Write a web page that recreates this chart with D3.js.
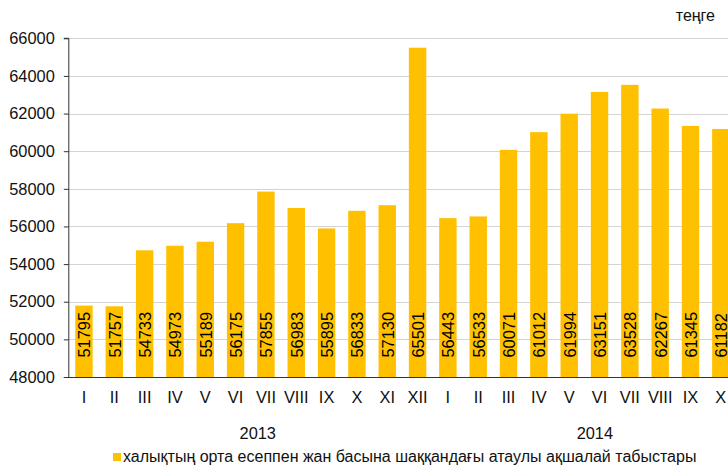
<!DOCTYPE html>
<html>
<head>
<meta charset="utf-8">
<script src="https://cdn.jsdelivr.net/npm/d3@7/dist/d3.min.js"></script>
<style>
  html, body { margin: 0; padding: 0; background: #fff; }
  svg { display: block; font-family: "Liberation Sans", Arial, sans-serif; }
</style>
</head>
<body>
<svg id="chart" width="728" height="465"></svg>
<script>
// ---- data ----
const months = ["I","II","III","IV","V","VI","VII","VIII","IX","X","XI","XII",
                "I","II","III","IV","V","VI","VII","VIII","IX","X"];
const years = ["2013","2014"];
const yearOfCategory = [0,0,0,0,0,0,0,0,0,0,0,0, 1,1,1,1,1,1,1,1,1,1];
const values = [51795,51757,54733,54973,55189,56175,57855,56983,55895,56833,57130,65501,
                56443,56533,60071,61012,61994,63151,63528,62267,61345,61182];
const yTicks = [48000,50000,52000,54000,56000,58000,60000,62000,64000,66000];
const unitLabel = "теңге";
const legendLabel = "халықтың орта есеппен жан басына шаққандағы атаулы ақшалай табыстары";

// ---- layout ----
(function () {
const svg = d3.select("#chart");
const pLeft = 68.8, pRight = 736, pTop = 38.3, pBottom = 377;
const barColor = "#FFC000";
const idx = d3.range(values.length);
const fs = "16.4px";

const x = d3.scaleBand().domain(idx).range([pLeft, pRight])
  .paddingInner(0.426).paddingOuter(0.213);
const y = d3.scaleLinear().domain([48000, 66000]).range([pBottom, pTop]);

// gridlines
svg.append("g").selectAll("line").data(yTicks.slice(1)).join("line")
  .attr("x1", pLeft).attr("x2", 728)
  .attr("y1", d => Math.round(y(d)) + 0.5).attr("y2", d => Math.round(y(d)) + 0.5)
  .attr("stroke", "#d4d4d4").attr("stroke-width", 1);

// bars
svg.append("g").selectAll("rect").data(idx).join("rect")
  .attr("x", i => x(i)).attr("width", x.bandwidth())
  .attr("y", i => y(values[i])).attr("height", i => y(48000) - y(values[i]))
  .attr("fill", barColor);

// value labels (rotated)
svg.append("g").selectAll("text").data(idx).join("text")
  .attr("transform", i => `translate(${x(i) + x.bandwidth()/2 + 0.5},357.5) rotate(-90)`)
  .attr("dy", "0.36em")
  .attr("text-anchor", "start")
  .attr("font-size", fs).attr("fill", "#000")
  .text(i => values[i]);

// y axis
const yAxis = d3.axisLeft(y).tickValues(yTicks).tickSize(5).tickPadding(9)
  .tickFormat(d3.format("d"));
const gy = svg.append("g").attr("transform", `translate(${pLeft},0)`).call(yAxis);
gy.select(".domain").attr("stroke", "#333").attr("d", `M-5,${pTop}H0V${pBottom}`);
gy.selectAll(".tick line").attr("stroke", "#333");
gy.selectAll(".tick text").attr("font-size", fs).attr("fill", "#111")
  .attr("font-family", "Liberation Sans, Arial, sans-serif");

// x axis line
svg.append("line").attr("x1", pLeft - 5).attr("x2", 728)
  .attr("y1", pBottom + 0.5).attr("y2", pBottom + 0.5)
  .attr("stroke", "#333").attr("stroke-width", 1);

// month labels
svg.append("g").selectAll("text").data(idx).join("text")
  .attr("x", i => x(i) + x.bandwidth()/2).attr("y", 403)
  .attr("text-anchor", "middle").attr("font-size", fs).attr("fill", "#111")
  .text(i => months[i]);

// year labels
const yearOffsets = [7, 10.5];
svg.append("g").selectAll("text").data(years).join("text")
  .attr("x", (d, k) => {
    const g = idx.filter(i => yearOfCategory[i] === k);
    const c = (x(g[0]) + x(g[g.length-1]) + x.bandwidth()) / 2;
    return c + yearOffsets[k];
  })
  .attr("y", 439).attr("text-anchor", "middle")
  .attr("font-size", fs).attr("fill", "#111")
  .text(d => d);

// unit label
svg.append("text").attr("x", 715).attr("y", 21).attr("text-anchor", "end")
  .attr("font-size", "16px").attr("fill", "#111").text(unitLabel);

// legend
svg.append("rect").attr("x", 113).attr("y", 453).attr("width", 8).attr("height", 8)
  .attr("fill", barColor);
svg.append("text").attr("x", 123).attr("y", 461.5).attr("font-size", "16px")
  .attr("fill", "#111").text(legendLabel);
})();
</script>
</body>
</html>
